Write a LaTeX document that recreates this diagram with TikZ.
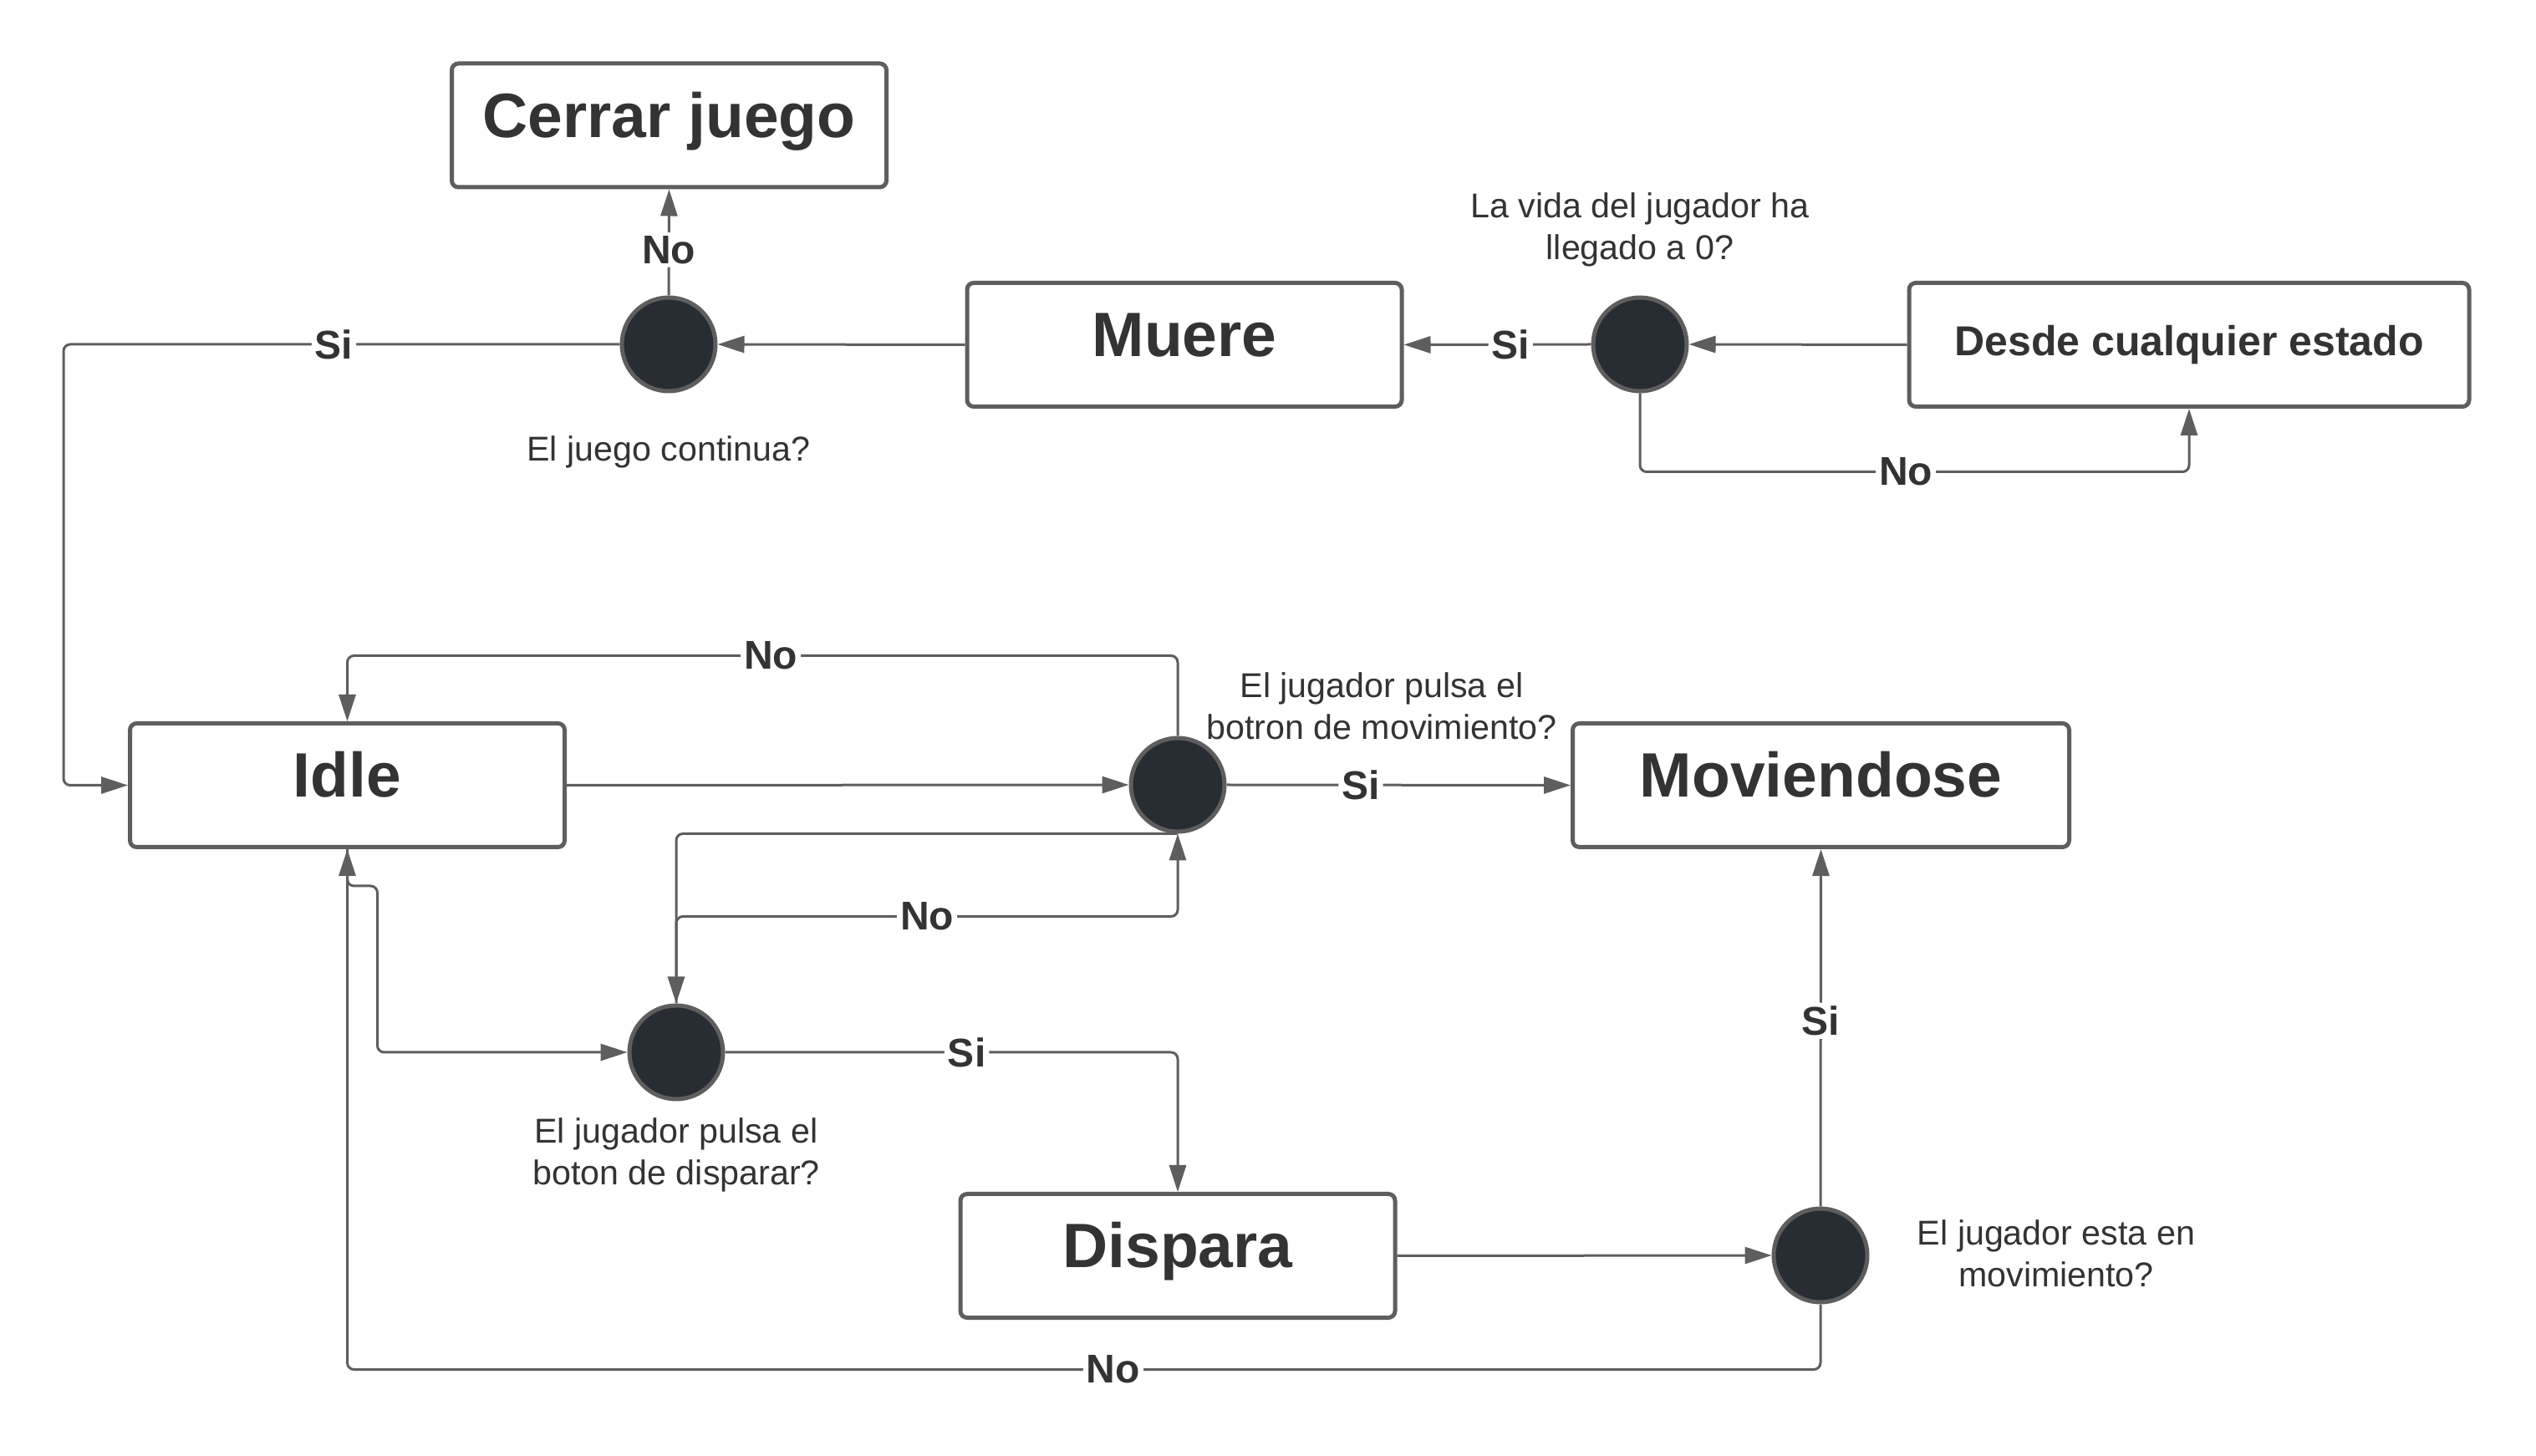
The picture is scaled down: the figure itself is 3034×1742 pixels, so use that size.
\documentclass[tikz,border=0pt]{standalone}
\usepackage{fontspec}
\setmainfont{Liberation Sans}
\usetikzlibrary{arrows.meta}
\definecolor{linec}{HTML}{5E5E5E}
\definecolor{txtc}{HTML}{333333}
\definecolor{dotc}{HTML}{282C33}
\begin{document}
\begin{tikzpicture}[x=0.25pt,y=-0.25pt,
 box/.style={draw=linec, line width=1.25pt, rounded corners=2pt, fill=white, minimum height=37pt, minimum width=130pt, text=txtc, font=\fontsize{18.75}{22}\selectfont\bfseries, inner sep=0pt, text height=13.5pt, text depth=6.3pt},
 dot/.style={circle, draw=linec, fill=dotc, line width=1.25pt, minimum size=28pt, inner sep=0pt},
 q/.style={text=txtc, align=center, font=\fontsize{10.3}{12.5}\selectfont, inner sep=0pt},
 conn/.style={draw=linec, line width=0.75pt, rounded corners=2pt, -{Triangle[length=8pt,width=5pt]}},
 lbl/.style={fill=white, text=txtc, font=\fontsize{12}{14}\selectfont\bfseries, inner sep=1pt}]
\useasboundingbox (0,0) rectangle (3034,1742);
\fill[white] (0,0) rectangle (3034,1742);

% states
\node[box] (cerrar) at (800.5,150) {Cerrar juego};
\node[box] (muere) at (1417,412.5) {Muere};
\node[box, minimum width=167.5pt, font=\fontsize{12.5}{15}\selectfont\bfseries, text height=9pt, text depth=2.6pt] (desde) at (2619,412.5) {Desde cualquier estado};
\node[box] (idle) at (415.5,939.5) {Idle};
\node[box, minimum width=148.5pt] (mov) at (2178.5,939.5) {Moviendose};
\node[box] (dispara) at (1409,1502.5) {Dispara};

% decisions
\node[dot] (c1) at (800,412) {};
\node[dot] (c2) at (1962,412) {};
\node[dot] (c3) at (1409,939) {};
\node[dot] (c4) at (809,1259) {};
\node[dot] (c5) at (2178,1502) {};

% questions
\node[q] (q1) at (800,541) {El juego continua?};
\node[q] (q2) at (1962,275) {La vida del jugador ha\\llegado a 0?};
\node[q] (q3) at (1653,845) {El jugador pulsa el\\botron de movimiento?};
\node[q] (q4) at (809,1382) {El jugador pulsa el\\boton de disparar?};
\node[q] (q5) at (2460,1500) {El jugador esta en\\movimiento?};

% connectors
\draw[conn] (desde.west) -- (c2.east);
\draw[conn] (c2.west) -- node[lbl,pos=0.43]{Si} (muere.east);
\draw[conn] (c2.south) -- ++(0,94) -| node[lbl,pos=0.242]{No} (desde.south);
\draw[conn] (muere.west) -- (c1.east);
\draw[conn] (c1.north) -- node[lbl,pos=0.43]{No} (cerrar.south);
\coordinate (lft) at (76,939.5);
\draw[conn] (c1.west) -| node[lbl,pos=0.257]{Si} (lft) -- (idle.west);
\draw[conn] (c3.north) -- ++(0,-96) -| node[lbl,pos=0.245]{No} (idle.north);
\draw[conn] (idle.east) -- (c3.west);
\draw[conn] (c3.east) -- node[lbl,pos=0.39]{Si} (mov.west);
\draw[conn] (c3.south) -| (c4.north);
\draw[conn] (c4.north) -- ++(0,-104) -| node[lbl,pos=0.25]{No} (c3.south);
\draw[conn] (idle.south) -- ++(0,44) -- ++(36,0) |- (c4.west);
\draw[conn] (c4.east) -| node[lbl,pos=0.267]{Si} (dispara.north);
\draw[conn] (dispara.east) -- (c5.west);
\draw[conn] (c5.north) -- node[lbl,pos=0.52]{Si} (mov.south);
\draw[conn] (c5.south) -- ++(0,78) -| node[lbl,pos=0.24]{No} (idle.south);
\end{tikzpicture}
\end{document}
